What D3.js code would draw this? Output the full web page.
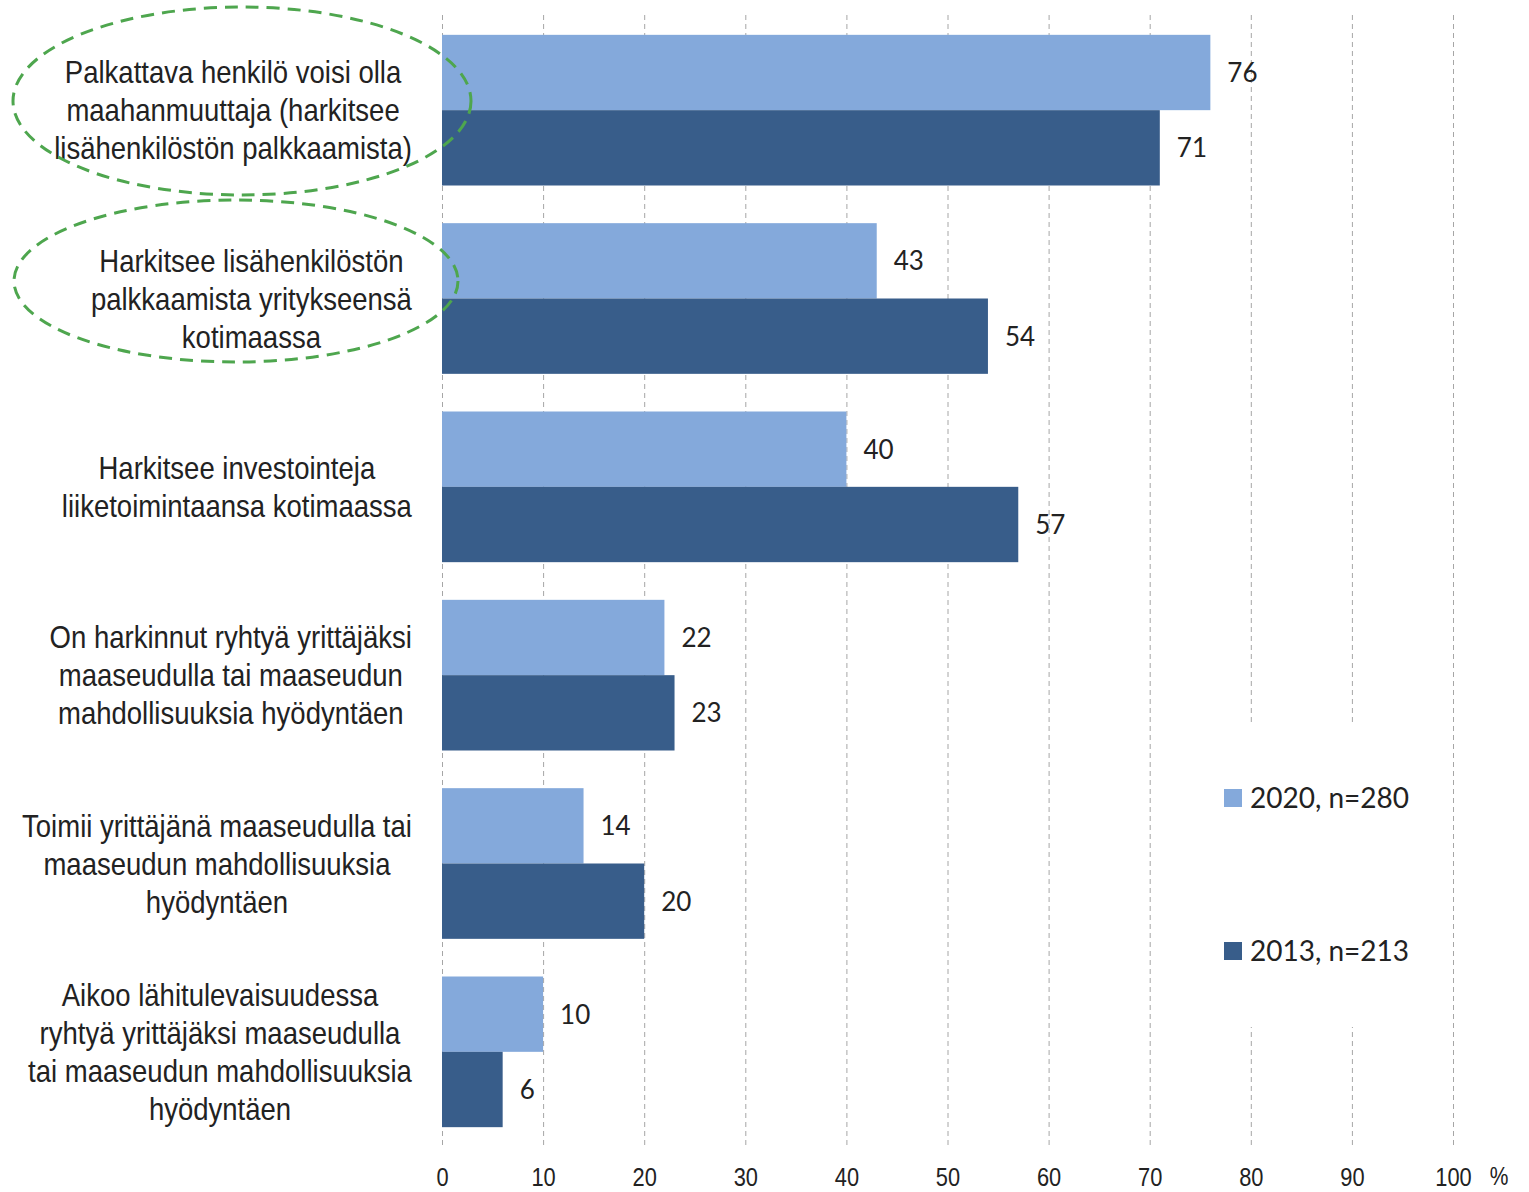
<!DOCTYPE html>
<html><head><meta charset="utf-8">
<script src="https://cdn.jsdelivr.net/npm/d3@7"></script>
<style>body{margin:0;background:#fff}</style>
</head><body>
<svg id="c" width="1529" height="1192"></svg>
<script>
const categories = [
  ["Palkattava henkilö voisi olla","maahanmuuttaja (harkitsee","lisähenkilöstön palkkaamista)"],
  ["Harkitsee lisähenkilöstön","palkkaamista yritykseensä","kotimaassa"],
  ["Harkitsee investointeja","liiketoimintaansa kotimaassa"],
  ["On harkinnut ryhtyä yrittäjäksi","maaseudulla tai maaseudun","mahdollisuuksia hyödyntäen"],
  ["Toimii yrittäjänä maaseudulla tai","maaseudun mahdollisuuksia","hyödyntäen"],
  ["Aikoo lähitulevaisuudessa","ryhtyä yrittäjäksi maaseudulla","tai maaseudun mahdollisuuksia","hyödyntäen"]
];
const series2020 = [76, 43, 40, 22, 14, 10];
const series2013 = [71, 54, 57, 23, 20, 6];
const seriesNames = ["2020, n=280", "2013, n=213"];
const tickValues = [0,10,20,30,40,50,60,70,80,90,100];

const colors = ["#84A9DB", "#385D8A"];
const svg = d3.select("#c");
const x = d3.scaleLinear().domain([0,100]).range([442,1453]);
const y = d3.scaleBand().domain(d3.range(categories.length)).range([16,1146]).paddingInner(0.2).paddingOuter(0.1);
const sub = d3.scaleBand().domain([0,1]).range([0, y.bandwidth()]);

const fontNarrow = "'Liberation Sans', Arial, sans-serif";
const SX = 0.86;

// gridlines
const grid = svg.append("g");
grid.selectAll("line").data(tickValues).join("line")
  .attr("x1", d=>x(d)+0.5).attr("x2", d=>x(d)+0.5)
  .attr("y1", 15).attr("y2", 1146)
  .attr("stroke", "#A6A6A6").attr("stroke-width", 1).attr("stroke-dasharray", "5,4");

// axis labels
const axis = d3.axisBottom(x).tickValues(tickValues).tickSize(0).tickPadding(0);
const ag = svg.append("g").attr("transform", "translate(0,1186)").call(axis);
ag.select(".domain").remove();
ag.selectAll(".tick text").attr("font-family", fontNarrow).attr("font-size", 26).attr("fill", "#222")
  .attr("dy", 0).attr("y", 0).attr("transform", `scale(0.84,1)`);
svg.append("text").attr("transform", `translate(1499,1185) scale(0.84,1)`).attr("text-anchor","middle")
  .attr("font-family", fontNarrow).attr("font-size", 25).attr("fill","#222").text("%");

// bars
const data = categories.map((c,i)=>({i, vals:[series2020[i], series2013[i]]}));
const groups = svg.append("g").selectAll("g").data(data).join("g")
  .attr("transform", d=>`translate(0,${y(d.i)})`);
groups.selectAll("rect").data(d=>d.vals.map((v,k)=>({v,k}))).join("rect")
  .attr("x", x(0)).attr("y", d=>sub(d.k)).attr("width", d=>x(d.v)-x(0)).attr("height", sub.bandwidth())
  .attr("fill", d=>colors[d.k]);
const valFont = "Lato, 'Open Sans', sans-serif";
groups.selectAll("text.v").data(d=>d.vals.map((v,k)=>({v,k}))).join("text")
  .attr("class","v")
  .attr("x", d=>x(d.v)+17).attr("y", d=>sub(d.k)+sub.bandwidth()/2).attr("dy","0.36em")
  .attr("font-family", valFont).attr("font-size", 26).attr("fill","#222").text(d=>d.v);

// category labels
const lh = 38;
categories.forEach((lines,i)=>{
  const cy = y(i)+y.bandwidth()/2;
  const g = svg.append("g");
  const lg = g.selectAll("g").data(lines).join("g");
  const t = lg.append("text")
    .attr("dy","0.35em")
    .attr("font-family", fontNarrow).attr("font-size", 32).attr("fill","#222").attr("text-anchor","middle")
    .text(d=>d);
  let maxW = 0; t.each(function(){ maxW = Math.max(maxW, this.getComputedTextLength()*SX); });
  lg.attr("transform", (d,j)=>`translate(${412 - maxW/2},${cy + (j-(lines.length-1)/2)*lh}) scale(${SX},1)`);
});

// legend
const leg = svg.append("g");
leg.append("rect").attr("x",1212).attr("y",722).attr("width",210).attr("height",305).attr("fill","#fff");
seriesNames.forEach((n,k)=>{
  const ly = [798, 951][k];
  leg.append("rect").attr("x",1224).attr("y",ly-9).attr("width",18).attr("height",18).attr("fill",colors[k]);
  leg.append("text").attr("x",1250).attr("y",ly).attr("dy","0.36em").attr("font-family",valFont)
    .attr("font-size",28).attr("fill","#222").text(n);
});

// annotation ellipses
const ell = [[242,101,229,94],[236,281,222,81]];
svg.append("g").selectAll("ellipse").data(ell).join("ellipse")
  .attr("cx",d=>d[0]).attr("cy",d=>d[1]).attr("rx",d=>d[2]).attr("ry",d=>d[3])
  .attr("fill","none").attr("stroke","#4EA64E").attr("stroke-width",3).attr("stroke-dasharray","13,8");
</script>
</body></html>
